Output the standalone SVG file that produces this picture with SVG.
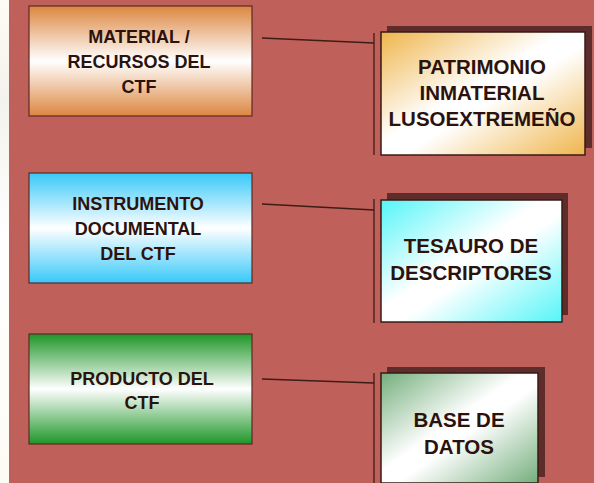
<svg xmlns="http://www.w3.org/2000/svg" width="594" height="483" viewBox="0 0 594 483">
<defs>
<linearGradient id="gOr" x1="0" y1="0" x2="0" y2="1"><stop offset="0" stop-color="#DC8640"/><stop offset="0.5" stop-color="#FFFFFF"/><stop offset="1" stop-color="#DC8640"/></linearGradient>
<linearGradient id="gBl" x1="0" y1="0" x2="0" y2="1"><stop offset="0" stop-color="#38C8F8"/><stop offset="0.5" stop-color="#FFFFFF"/><stop offset="1" stop-color="#38C8F8"/></linearGradient>
<linearGradient id="gGr" x1="0" y1="0" x2="0" y2="1"><stop offset="0" stop-color="#1E9628"/><stop offset="0.5" stop-color="#FFFFFF"/><stop offset="1" stop-color="#1E9628"/></linearGradient>
<linearGradient id="dOr" x1="0" y1="0" x2="1" y2="1"><stop offset="0" stop-color="#EFB54C"/><stop offset="0.45" stop-color="#FFFFFF"/><stop offset="0.55" stop-color="#FFFFFF"/><stop offset="1" stop-color="#EFB54C"/></linearGradient>
<linearGradient id="dCy" x1="0" y1="0" x2="1" y2="1"><stop offset="0" stop-color="#55F5F8"/><stop offset="0.45" stop-color="#FFFFFF"/><stop offset="0.55" stop-color="#FFFFFF"/><stop offset="1" stop-color="#55F5F8"/></linearGradient>
<linearGradient id="dGr" x1="0" y1="0" x2="1" y2="1"><stop offset="0" stop-color="#74AE7C"/><stop offset="0.45" stop-color="#FFFFFF"/><stop offset="0.55" stop-color="#FFFFFF"/><stop offset="1" stop-color="#74AE7C"/></linearGradient>
<linearGradient id="strip" x1="0" y1="0" x2="0" y2="1"><stop offset="0" stop-color="#FDFBF3"/><stop offset="0.2" stop-color="#F4F2EC"/><stop offset="0.5" stop-color="#FFFFFF"/><stop offset="1" stop-color="#FDFBF3"/></linearGradient>
</defs>
<style>
.lb{stroke:#5A2A22;stroke-width:1.2}
.rb{stroke:#3A1A14;stroke-width:1.5}
.sh{fill:#5E2C2A}
.t{font-family:"Liberation Sans",Arial,sans-serif;font-weight:bold;fill:#2C120C;text-anchor:middle}
.s{font-size:18px}
.b{font-size:20.5px}
.c{stroke:#3C1C16;stroke-width:1.3;fill:none}
</style>
<rect x="0" y="0" width="594" height="483" fill="#C0605A"/>
<rect x="0" y="0" width="9" height="483" fill="url(#strip)"/>
<g id="connectors">
<path class="c" d="M262 38 L374 43"/>
<path class="c" d="M374 33 L374 155"/>
<path class="c" d="M262 204 L374 210"/>
<path class="c" d="M374 199 L374 323"/>
<path class="c" d="M262 379 L374 383"/>
<path class="c" d="M374 373 L374 483"/>
</g>
<g id="material">
<rect class="lb" x="29" y="6" width="223" height="110" fill="url(#gOr)"/>
<text class="t s" x="139" y="43">MATERIAL /</text>
<text class="t s" x="139" y="68">RECURSOS DEL</text>
<text class="t s" x="139" y="93">CTF</text>
</g>
<g id="instrumento">
<rect class="lb" x="29" y="173" width="223" height="110" fill="url(#gBl)"/>
<text class="t s" x="138" y="210">INSTRUMENTO</text>
<text class="t s" x="138" y="235">DOCUMENTAL</text>
<text class="t s" x="138" y="260">DEL CTF</text>
</g>
<g id="producto">
<rect class="lb" x="29" y="334" width="223" height="110" fill="url(#gGr)"/>
<text class="t s" x="142" y="385">PRODUCTO DEL</text>
<text class="t s" x="142" y="409">CTF</text>
</g>
<g id="patrimonio">
<rect class="sh" x="387" y="26" width="205" height="122"/>
<rect class="rb" x="381" y="32" width="204" height="123" fill="url(#dOr)"/>
<text class="t b" x="482" y="74">PATRIMONIO</text>
<text class="t b" x="482" y="100">INMATERIAL</text>
<text class="t b" x="482" y="126">LUSOEXTREMEÑO</text>
</g>
<g id="tesauro">
<rect class="sh" x="387" y="193" width="181" height="122"/>
<rect class="rb" x="381" y="200" width="181" height="122" fill="url(#dCy)"/>
<text class="t b" x="471" y="253">TESAURO DE</text>
<text class="t b" x="471" y="280">DESCRIPTORES</text>
</g>
<g id="base">
<rect class="sh" x="387" y="367" width="158" height="110"/>
<rect class="rb" x="381" y="373" width="157" height="110" fill="url(#dGr)"/>
<text class="t b" x="459" y="427">BASE DE</text>
<text class="t b" x="459" y="454">DATOS</text>
</g>
</svg>
